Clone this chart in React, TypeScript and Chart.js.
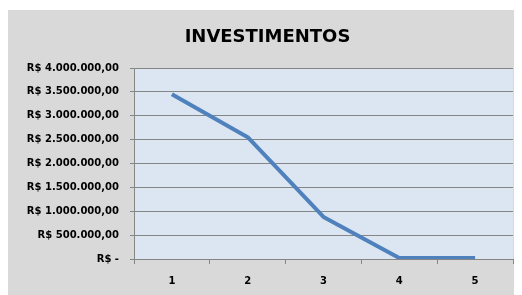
import React, { useEffect, useRef } from "react";
import { Chart, registerables } from "chart.js";

Chart.register(...registerables);

const title = "INVESTIMENTOS";
const categories = ["1", "2", "3", "4", "5"];
const investimentos = [3450000, 2550000, 880000, 20000, 20000];
const yMin = 0;
const yMax = 4000000;
const yStep = 500000;

function formatBRL(v: number): string {
  if (v === 0) return "R$ -";
  const intPart = Math.round(v).toString().replace(/\B(?=(\d{3})+(?!\d))/g, ".");
  return "R$ " + intPart + ",00";
}

const W = 514;
const H = 285;

export default function App() {
  const ref = useRef<HTMLCanvasElement | null>(null);

  useEffect(() => {
    if (!ref.current) return;
    const bgPlugin = {
      id: "plotBg",
      beforeDraw(chart: any) {
        const { ctx, chartArea } = chart;
        ctx.save();
        ctx.fillStyle = "#dce6f2";
        ctx.fillRect(chartArea.left, chartArea.top, chartArea.right - chartArea.left, chartArea.bottom - chartArea.top);
        ctx.restore();
      },
      afterDraw(chart: any) {
        const { ctx } = chart;
        ctx.save();
        ctx.fillStyle = "#000000";
        ctx.font = "bold 18px 'DejaVu Sans'";
        ctx.textAlign = "center";
        ctx.textBaseline = "alphabetic";
        ctx.fillText(title, 259.5, 32);
        ctx.restore();
      },
    };
    const chart = new Chart(ref.current, {
      type: "line",
      data: {
        labels: categories,
        datasets: [
          {
            data: investimentos,
            borderColor: "#4f81bd",
            borderWidth: 4,
            pointRadius: 0,
            tension: 0,
            borderJoinStyle: "round",
            fill: false,
          },
        ],
      },
      options: {
        responsive: false,
        animation: false,
        layout: { padding: { top: 58, right: 9, left: 0, bottom: 0 } },
        plugins: { legend: { display: false }, title: { display: false }, tooltip: { enabled: false } },
        scales: {
          x: {
            offset: true,
            grid: {
              offset: true,
              drawOnChartArea: false,
              drawTicks: true,
              tickLength: 5,
              color: "#868686",
            },
            border: { color: "#868686", width: 1 },
            ticks: {
              padding: 11,
              color: "#000000",
              font: { family: "'DejaVu Sans'", size: 10, weight: "bold" },
            },
            afterFit(scale: any) {
              scale.height = 36;
            },
          },
          y: {
            min: yMin,
            max: yMax,
            grid: { color: "#868686", tickLength: 4 },
            border: { color: "#868686", width: 1 },
            ticks: {
              stepSize: yStep,
              padding: 11,
              color: "#000000",
              font: { family: "'DejaVu Sans'", size: 10, weight: "bold" },
              callback: (v: any) => formatBRL(Number(v)),
            },
            afterFit(scale: any) {
              scale.width = 126;
            },
          },
        },
      },
      plugins: [bgPlugin],
    } as any);
    return () => chart.destroy();
  }, []);

  return (
    <div style={{ paddingTop: 2 }}>
      <div style={{ width: W, height: H, background: "#d9d9d9" }}>
        <canvas ref={ref} width={W} height={H} style={{ display: "block" }} />
      </div>
    </div>
  );
}
